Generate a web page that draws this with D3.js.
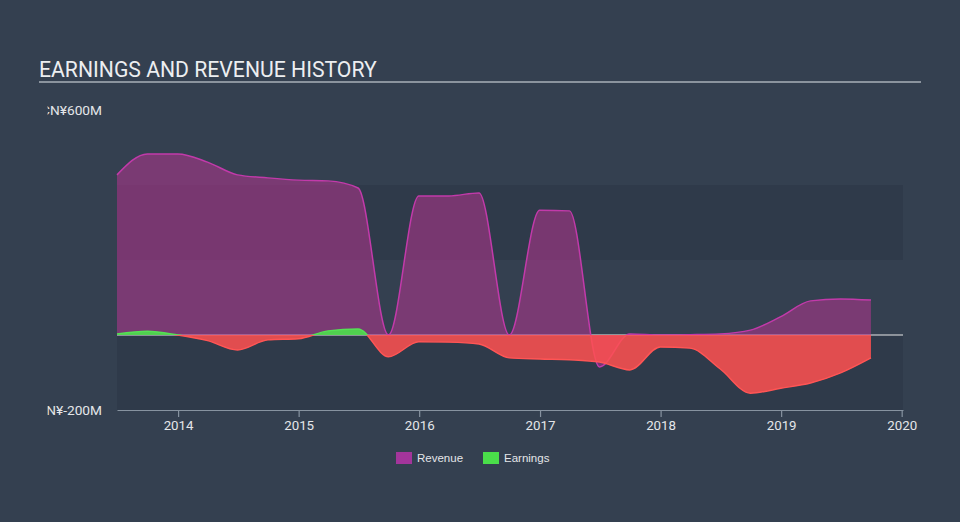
<!DOCTYPE html>
<html>
<head>
<meta charset="utf-8">
<script src="https://cdn.jsdelivr.net/npm/d3@7"></script>
<style>
  html, body { margin: 0; padding: 0; background: #344050; }
  svg { display: block; }
</style>
</head>
<body>
<svg id="chart" width="960" height="522"></svg>
<script>
const dates = ["2013-06-30","2013-09-30","2013-12-31","2014-03-31","2014-06-30","2014-09-30","2014-12-31",
  "2015-03-31","2015-06-30","2015-09-30","2015-12-31","2016-03-31","2016-06-30","2016-09-30","2016-12-31",
  "2017-03-31","2017-06-30","2017-09-30","2017-12-31","2018-03-31","2018-06-30","2018-09-30","2018-12-31",
  "2019-03-31","2019-06-30","2019-09-30"];
const revenue = [427,483,483,461,427,419,413,411,392,0,371,371,379,0,333,331,-85,3,0,1,3,13,49,91,96,93];
const earnings = [3,10,0,-15,-40,-13,-10,11,16,-58,-18,-19,-24,-61,-64,-66,-72,-93,-32,-35,-90,-155,-142,-128,-101,-61];
const yTickValues = [600, -200];
const yTickLabels = ["CN¥600M", "CN¥-200M"];
const xTickYears = [2014, 2015, 2016, 2017, 2018, 2019, 2020];
const bandRanges = [[400, 200], [0, -200]];
const legendItems = ["Revenue", "Earnings"];

(function () {
const parse = d3.timeParse("%Y-%m-%d");
const data = dates.map((d, i) => ({ date: parse(d), rev: revenue[i], earn: earnings[i] }));

const svg = d3.select("#chart");
const W = 960, H = 522;
const pLeft = 117, pRight = 903, pTop = 110, pBottom = 410;

const x = d3.scaleTime()
  .domain([new Date(2013, 5, 30), new Date(2020, 0, 5)])
  .range([pLeft, pRight]);
const y = d3.scaleLinear().domain([-200, 600]).range([pBottom, pTop]);

svg.append("rect").attr("width", W).attr("height", H).attr("fill", "#344050");

const defs = svg.append("defs");
defs.append("clipPath").attr("id", "above").append("rect")
  .attr("x", 0).attr("y", 0).attr("width", W).attr("height", y(0));
defs.append("clipPath").attr("id", "below").append("rect")
  .attr("x", 0).attr("y", y(0)).attr("width", W).attr("height", H - y(0));
defs.append("clipPath").attr("id", "ylab").append("rect")
  .attr("x", 47.5).attr("y", 0).attr("width", 200).attr("height", H);

// Title
svg.append("text").attr("x", 39).attr("y", 77)
  .attr("font-family", "Roboto, sans-serif").attr("font-size", 21.2)
  .attr("fill", "#eceef0").text("EARNINGS AND REVENUE HISTORY");
svg.append("line").attr("x1", 39).attr("x2", 921).attr("y1", 82).attr("y2", 82)
  .attr("stroke", "#a9b0b8").attr("stroke-width", 1.5);

// Bands
svg.append("g").selectAll("rect").data(bandRanges).join("rect")
  .attr("x", pLeft).attr("width", pRight - pLeft)
  .attr("y", d => y(d[0])).attr("height", d => y(d[1]) - y(d[0]))
  .attr("fill", "#2f3a4a");

// Zero line
svg.append("line").attr("x1", pLeft).attr("x2", pRight).attr("y1", y(0)).attr("y2", y(0))
  .attr("stroke", "#e8e8e8").attr("stroke-width", 1.2);

// Revenue area
const revArea = d3.area().curve(d3.curveMonotoneX)
  .x(d => x(d.date)).y0(y(0)).y1(d => y(d.rev));
const revLine = d3.line().curve(d3.curveMonotoneX)
  .x(d => x(d.date)).y(d => y(d.rev));
svg.append("path").datum(data).attr("d", revArea)
  .attr("fill", "#b5348f").attr("fill-opacity", 0.55);
svg.append("path").datum(data).attr("d", revLine)
  .attr("fill", "none").attr("stroke", "#c23aaa").attr("stroke-width", 1.5);

// Earnings areas (clipped above/below zero)
const earnArea = d3.area().curve(d3.curveMonotoneX)
  .x(d => x(d.date)).y0(y(0)).y1(d => y(d.earn));
const earnLine = d3.line().curve(d3.curveMonotoneX)
  .x(d => x(d.date)).y(d => y(d.earn));

svg.append("path").datum(data).attr("d", earnArea).attr("clip-path", "url(#above)")
  .attr("fill", "#4cdc4c").attr("fill-opacity", 0.92);
svg.append("path").datum(data).attr("d", earnLine).attr("clip-path", "url(#above)")
  .attr("fill", "none").attr("stroke", "#55e055").attr("stroke-width", 1.5);
svg.append("path").datum(data).attr("d", earnArea).attr("clip-path", "url(#below)")
  .attr("fill", "#ff5050").attr("fill-opacity", 0.86);
svg.append("path").datum(data).attr("d", earnLine).attr("clip-path", "url(#below)")
  .attr("fill", "none").attr("stroke", "#ff5555").attr("stroke-width", 1.5);

// Y axis labels (clipped on the left like the original)
const yAxis = d3.axisLeft(y).tickValues(yTickValues).tickSize(0).tickPadding(0)
  .tickFormat((d, i) => yTickLabels[i]);
const gyWrap = svg.append("g").attr("clip-path", "url(#ylab)");
const gy = gyWrap.append("g").attr("transform", "translate(102,0)").call(yAxis);
gy.select(".domain").remove();
gy.selectAll("text").attr("font-family", "Roboto, sans-serif").attr("font-size", 13.7)
  .attr("fill", "#e4e6e9");

// X axis
const xAxis = d3.axisBottom(x)
  .tickValues(xTickYears.map(yr => new Date(yr, 0, 1)))
  .tickFormat(d3.timeFormat("%Y")).tickSize(7).tickPadding(4).tickSizeOuter(0);
const gx = svg.append("g").attr("transform", `translate(0,${pBottom})`).call(xAxis);
gx.select(".domain").attr("stroke", "#8793a0").attr("stroke-width", 1.2);
gx.selectAll(".tick line").attr("stroke", "#8793a0").attr("stroke-width", 1.2);
gx.selectAll("text").attr("font-family", "Roboto, sans-serif").attr("font-size", 13.3)
  .attr("fill", "#e4e6e9");

// Legend
const legColors = ["#a3359b", "#4ade4a"];
const legX = [396, 483];
const lg = svg.append("g").selectAll("g").data(legendItems).join("g")
  .attr("transform", (d, i) => `translate(${legX[i]},452)`);
lg.append("rect").attr("width", 16).attr("height", 12).attr("fill", (d, i) => legColors[i]);
lg.append("text").attr("x", 21).attr("y", 10)
  .attr("font-family", "'Liberation Sans', Arial, sans-serif").attr("font-size", 11.5)
  .attr("fill", "#e4e6e9").text(d => d);
})();
</script>
</body>
</html>
